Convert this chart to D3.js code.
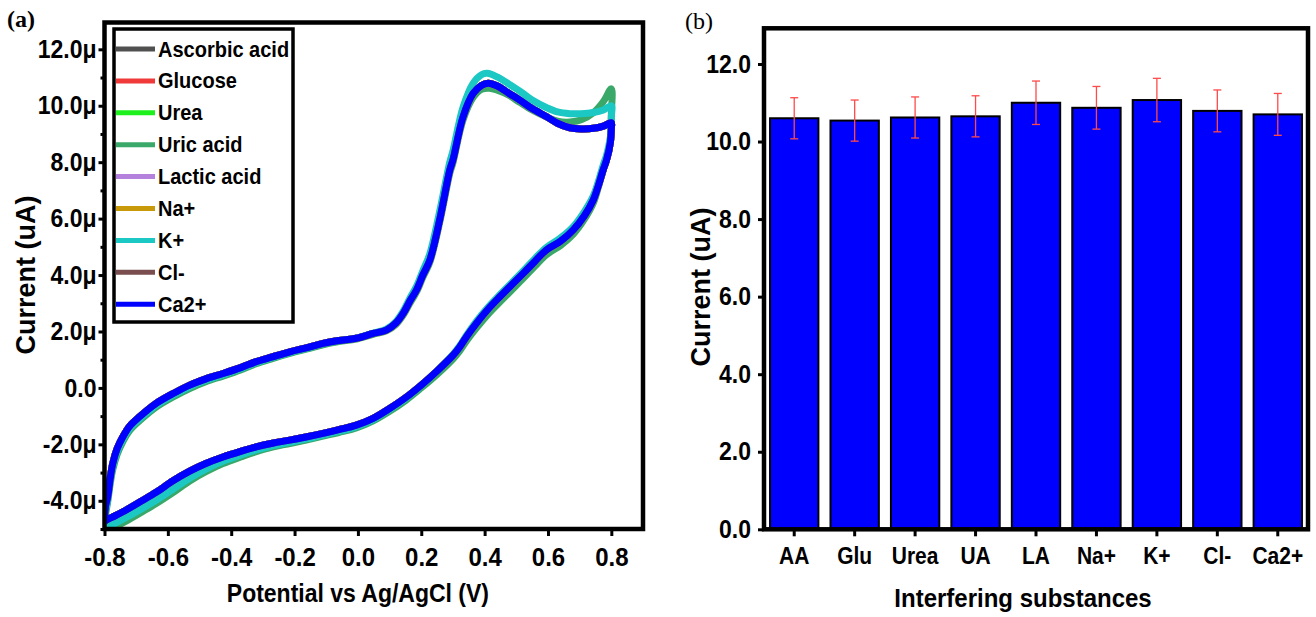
<!DOCTYPE html>
<html>
<head>
<meta charset="utf-8">
<script src="https://cdn.jsdelivr.net/npm/d3@7"></script>
<style>
body { margin: 0; background: #fff; }
text { font-family: "Liberation Sans", Arial, sans-serif; font-weight: bold; fill: #000; }
</style>
</head>
<body>
<div id="fig"></div>
<script>
// ---------- panel (a): cyclic voltammograms, [potential (V), current (uA)]
var cvNames  = ["Ascorbic acid", "Glucose", "Urea", "Uric acid", "Lactic acid", "Na+", "K+", "Cl-", "Ca2+"];
var cvColors = ["#505050", "#f03a3a", "#1ef01e", "#3aa868", "#b482dc", "#c89a0a", "#1cc8c4", "#7a4e4e", "#0000ff"];
// the runs lie on top of each other; the hidden ones follow the Ca2+ trace
var cvTraceOf = ["ca", "ca", "ca", "ua", "ca", "ca", "k", "ca", "ca"];

var cvCa = [
  [-0.80,-4.75],[-0.797,-4.2],[-0.79,-3.86],[-0.782,-3.2],[-0.774,-2.68],[-0.76,-2.15],[-0.742,-1.73],
  [-0.72,-1.35],[-0.689,-1.02],[-0.637,-0.55],[-0.58,-0.18],[-0.531,0.1],[-0.48,0.32],[-0.426,0.51],
  [-0.37,0.72],[-0.321,0.93],[-0.27,1.1],[-0.215,1.28],[-0.16,1.43],[-0.11,1.58],[-0.06,1.68],
  [-0.005,1.76],[0.048,1.93],[0.09,2.05],[0.12,2.3],[0.143,2.64],[0.165,3.1],[0.185,3.47],[0.205,4.0],
  [0.227,4.53],[0.258,5.95],[0.29,7.72],[0.30,8.08],[0.332,9.61],[0.364,10.44],[0.39,10.72],[0.411,10.8],
  [0.44,10.7],[0.475,10.45],[0.511,10.2],[0.55,9.9],[0.596,9.61],[0.63,9.38],[0.669,9.22],[0.705,9.18],
  [0.743,9.2],[0.775,9.28],[0.80,9.4],
  [0.80,9.2],[0.797,8.7],[0.785,8.08],[0.774,7.72],[0.76,7.2],[0.743,6.66],[0.715,6.1],[0.68,5.6],
  [0.64,5.2],[0.595,4.89],[0.56,4.5],[0.522,4.06],[0.485,3.65],[0.448,3.23],[0.41,2.78],[0.374,2.29],
  [0.345,1.85],[0.322,1.46],[0.3,1.15],[0.25,0.6],[0.2,0.1],[0.15,-0.35],[0.10,-0.73],[0.048,-1.08],
  [-0.005,-1.32],[-0.06,-1.48],[-0.11,-1.61],[-0.16,-1.73],[-0.215,-1.85],[-0.27,-1.96],[-0.321,-2.09],
  [-0.37,-2.25],[-0.426,-2.45],[-0.48,-2.68],[-0.531,-2.95],[-0.585,-3.3],[-0.637,-3.7],[-0.69,-4.05],
  [-0.742,-4.39],[-0.775,-4.58],[-0.795,-4.69],[-0.80,-4.75]
];

var cvK = [
  [-0.80,-4.95],[-0.797,-4.4],[-0.79,-3.95],[-0.782,-3.3],[-0.774,-2.78],[-0.76,-2.25],[-0.742,-1.82],
  [-0.72,-1.43],[-0.689,-1.1],[-0.637,-0.62],[-0.58,-0.24],[-0.531,0.04],[-0.48,0.27],[-0.426,0.46],
  [-0.37,0.68],[-0.321,0.89],[-0.27,1.07],[-0.215,1.25],[-0.16,1.41],[-0.11,1.56],[-0.06,1.67],
  [-0.005,1.76],[0.048,1.94],[0.09,2.08],[0.12,2.35],[0.143,2.72],[0.165,3.2],[0.185,3.6],[0.205,4.15],
  [0.227,4.75],[0.258,6.25],[0.29,8.0],[0.30,8.4],[0.332,9.95],[0.364,10.8],[0.39,11.1],[0.408,11.15],
  [0.44,11.02],[0.475,10.78],[0.511,10.52],[0.55,10.2],[0.596,9.93],[0.63,9.78],[0.669,9.72],[0.705,9.72],
  [0.743,9.76],[0.775,9.85],[0.80,10.0],
  [0.80,9.6],[0.797,8.9],[0.785,8.25],[0.774,7.88],[0.76,7.35],[0.743,6.8],[0.715,6.25],[0.68,5.72],
  [0.64,5.32],[0.595,4.98],[0.56,4.6],[0.522,4.15],[0.485,3.72],[0.448,3.3],[0.41,2.85],[0.374,2.36],
  [0.345,1.9],[0.322,1.5],[0.3,1.18],[0.25,0.6],[0.2,0.08],[0.15,-0.38],[0.10,-0.76],[0.048,-1.12],
  [-0.005,-1.37],[-0.06,-1.54],[-0.11,-1.67],[-0.16,-1.8],[-0.215,-1.93],[-0.27,-2.05],[-0.321,-2.2],
  [-0.37,-2.38],[-0.426,-2.6],[-0.48,-2.88],[-0.531,-3.2],[-0.585,-3.6],[-0.637,-3.98],[-0.69,-4.33],
  [-0.742,-4.65],[-0.775,-4.85],[-0.795,-4.97],[-0.80,-5.0]
];

var cvUA = [
  [-0.80,-5.0],[-0.797,-4.5],[-0.79,-4.05],[-0.782,-3.4],[-0.774,-2.9],[-0.76,-2.35],[-0.742,-1.9],
  [-0.72,-1.5],[-0.689,-1.16],[-0.637,-0.68],[-0.58,-0.3],[-0.531,-0.02],[-0.48,0.22],[-0.426,0.42],
  [-0.37,0.64],[-0.321,0.86],[-0.27,1.04],[-0.215,1.22],[-0.16,1.38],[-0.11,1.53],[-0.06,1.64],
  [-0.005,1.73],[0.048,1.9],[0.09,2.02],[0.12,2.25],[0.143,2.58],[0.165,3.02],[0.185,3.4],[0.205,3.92],
  [0.227,4.45],[0.258,5.85],[0.29,7.6],[0.30,7.98],[0.332,9.5],[0.364,10.3],[0.39,10.58],[0.415,10.62],
  [0.44,10.55],[0.475,10.38],[0.511,10.12],[0.55,9.85],[0.596,9.6],[0.63,9.45],[0.669,9.42],[0.705,9.5],
  [0.743,9.75],[0.775,10.15],[0.80,10.6],
  [0.80,9.7],[0.797,8.8],[0.785,8.1],[0.774,7.7],[0.76,7.15],[0.743,6.55],[0.715,5.98],[0.68,5.45],
  [0.64,5.05],[0.595,4.72],[0.56,4.33],[0.522,3.88],[0.485,3.46],[0.448,3.04],[0.41,2.6],[0.374,2.12],
  [0.345,1.7],[0.322,1.32],[0.3,1.02],[0.25,0.48],[0.2,0.0],[0.15,-0.45],[0.10,-0.83],[0.048,-1.17],
  [-0.005,-1.42],[-0.06,-1.58],[-0.11,-1.71],[-0.16,-1.84],[-0.215,-1.97],[-0.27,-2.1],[-0.321,-2.26],
  [-0.37,-2.45],[-0.426,-2.68],[-0.48,-2.97],[-0.531,-3.3],[-0.585,-3.72],[-0.637,-4.1],[-0.69,-4.45],
  [-0.742,-4.78],[-0.775,-4.95],[-0.795,-5.05],[-0.80,-5.1]
];

var cvXTicks = [-0.8, -0.6, -0.4, -0.2, 0.0, 0.2, 0.4, 0.6, 0.8];
var cvYTicks = [-4, -2, 0, 2, 4, 6, 8, 10, 12];
var cvYMinor = [-5, -3, -1, 1, 3, 5, 7, 9, 11];

// ---------- panel (b): interference bars
var barLabels = ["AA", "Glu", "Urea", "UA", "LA", "Na+", "K+", "Cl-", "Ca2+"];
var barValues = [10.6, 10.54, 10.62, 10.65, 11.0, 10.87, 11.07, 10.79, 10.7];
var barErrors = [0.53, 0.53, 0.53, 0.53, 0.56, 0.55, 0.56, 0.54, 0.54];
var barYTicks = [0, 2, 4, 6, 8, 10, 12];

var stretch = 1.1;   // the figure's lettering is a bit taller than plain Arial


var svg = d3.select("#fig").append("svg")
    .attr("width", 1316)
    .attr("height", 617)
    .style("display", "block");

svg.append("rect").attr("width", 1316).attr("height", 617).attr("fill", "#fff");

function styleAxis(g, fontSize) {
  g.select(".domain").remove();
  g.selectAll(".tick line").attr("stroke", "#000").attr("stroke-width", 3);
  g.selectAll(".tick text")
    .style("font-size", fontSize + "px")
    .attr("transform", "scale(1," + stretch + ")");
}

// horizontal label, stretched upward from its baseline
function label(px, py, size, str, anchor) {
  return svg.append("text")
    .attr("transform", "translate(" + px + "," + py + ") scale(1," + stretch + ")")
    .attr("text-anchor", anchor || "start")
    .style("font-size", size + "px")
    .text(str);
}

// ======================= panel (a)
var ax = {left: 104.5, right: 643, top: 22.5, bottom: 529};

var x = d3.scaleLinear().domain([-0.8, 0.9]).range([ax.left, ax.right]);
var y = d3.scaleLinear().domain([-5, 12.95]).range([ax.bottom, ax.top]);

svg.append("clipPath").attr("id", "clipA")
  .append("rect")
    .attr("x", ax.left).attr("y", ax.top)
    .attr("width", ax.right - ax.left).attr("height", ax.bottom - ax.top);

var traces = {ca: cvCa, k: cvK, ua: cvUA};

var line = d3.line()
    .x(function(d) { return x(d[0]); })
    .y(function(d) { return y(d[1]); })
    .curve(d3.curveCatmullRom);

var curves = svg.append("g").attr("clip-path", "url(#clipA)");
cvNames.forEach(function(name, i) {
  curves.append("path")
    .attr("d", line(traces[cvTraceOf[i]]))
    .attr("fill", "none")
    .attr("stroke", cvColors[i])
    .attr("stroke-width", 7)
    .attr("stroke-linejoin", "round");
});

// minor ticks
svg.append("g")
  .attr("transform", "translate(" + ax.left + ",0)")
  .call(d3.axisLeft(y).tickValues(cvYMinor).tickSize(4).tickFormat(""))
  .call(function(g) { styleAxis(g, 10); });

svg.append("g")
  .attr("transform", "translate(0," + ax.bottom + ")")
  .call(d3.axisBottom(x).tickValues(cvXTicks).tickSize(7).tickPadding(10)
        .tickFormat(function(d) { return d.toFixed(1); }))
  .call(function(g) { styleAxis(g, 24); });

svg.append("g")
  .attr("transform", "translate(" + ax.left + ",0)")
  .call(d3.axisLeft(y).tickValues(cvYTicks).tickSize(6).tickPadding(2)
        .tickFormat(function(d) { return d === 0 ? "0.0" : d.toFixed(1) + "\u03bc"; }))
  .call(function(g) { styleAxis(g, 23); });

svg.append("rect")
  .attr("x", ax.left).attr("y", ax.top)
  .attr("width", ax.right - ax.left).attr("height", ax.bottom - ax.top)
  .attr("fill", "none").attr("stroke", "#000").attr("stroke-width", 4.5);

// legend
var leg = svg.append("g");
leg.append("rect")
  .attr("x", 114).attr("y", 29).attr("width", 179).attr("height", 293)
  .attr("fill", "#fff").attr("stroke", "#000").attr("stroke-width", 3.5);
cvNames.forEach(function(name, i) {
  var ly = 49 + i * 31.9;
  leg.append("line")
    .attr("x1", 116).attr("x2", 155).attr("y1", ly).attr("y2", ly)
    .attr("stroke", cvColors[i]).attr("stroke-width", 5);
  label(158, ly + 7.5, 20, name);
});

label(x(0), 602, 23, "Potential vs Ag/AgCl (V)", "middle");

svg.append("text")
  .attr("transform", "translate(26,275) rotate(-90)")
  .attr("text-anchor", "middle")
  .attr("dominant-baseline", "central")
  .style("font-size", "27px")
  .text("Current (uA)");

svg.append("text")
  .attr("x", 7).attr("y", 27)
  .style("font-family", "'Liberation Serif', 'Times New Roman', serif")
  .style("font-size", "24px")
  .text("(a)");

// ======================= panel (b)
var bx = {left: 764, right: 1308, top: 28.3, bottom: 529.3};

var xb = d3.scaleBand().domain(barLabels).range([bx.left, bx.right])
    .paddingInner(0.2).paddingOuter(0.1);
var yb = d3.scaleLinear().domain([0, 12.92]).range([bx.bottom, bx.top]);

svg.append("g").selectAll("rect")
  .data(barValues).enter()
  .append("rect")
    .attr("x", function(d, i) { return xb(barLabels[i]); })
    .attr("width", xb.bandwidth())
    .attr("y", function(d) { return yb(d); })
    .attr("height", function(d) { return yb(0) - yb(d); })
    .attr("fill", "#0000ff")
    .attr("stroke", "#000")
    .attr("stroke-width", 2);

var err = svg.append("g").attr("stroke", "#ff4a4a").attr("stroke-width", 1.3);
barValues.forEach(function(v, i) {
  var cx = xb(barLabels[i]) + xb.bandwidth() / 2;
  var lo = yb(v - barErrors[i]), hi = yb(v + barErrors[i]);
  err.append("line").attr("x1", cx).attr("x2", cx).attr("y1", lo).attr("y2", hi);
  err.append("line").attr("x1", cx - 4).attr("x2", cx + 4).attr("y1", lo).attr("y2", lo);
  err.append("line").attr("x1", cx - 4).attr("x2", cx + 4).attr("y1", hi).attr("y2", hi);
});

svg.append("g")
  .attr("transform", "translate(0," + bx.bottom + ")")
  .call(d3.axisBottom(xb).tickSize(7).tickPadding(10))
  .call(function(g) { styleAxis(g, 21); });

svg.append("g")
  .attr("transform", "translate(" + bx.left + ",0)")
  .call(d3.axisLeft(yb).tickValues(barYTicks).tickSize(6).tickPadding(7)
        .tickFormat(d3.format(".1f")))
  .call(function(g) { styleAxis(g, 23); });

svg.append("rect")
  .attr("x", bx.left).attr("y", bx.top)
  .attr("width", bx.right - bx.left).attr("height", bx.bottom - bx.top)
  .attr("fill", "none").attr("stroke", "#000").attr("stroke-width", 4.5);

label(1023, 607, 24, "Interfering substances", "middle");

svg.append("text")
  .attr("transform", "translate(701,287) rotate(-90)")
  .attr("text-anchor", "middle")
  .attr("dominant-baseline", "central")
  .style("font-size", "27px")
  .text("Current (uA)");

svg.append("text")
  .attr("x", 685).attr("y", 29)
  .style("font-family", "'Liberation Serif', 'Times New Roman', serif")
  .style("font-weight", "normal")
  .style("font-size", "24px")
  .text("(b)");
</script>
</body>
</html>
